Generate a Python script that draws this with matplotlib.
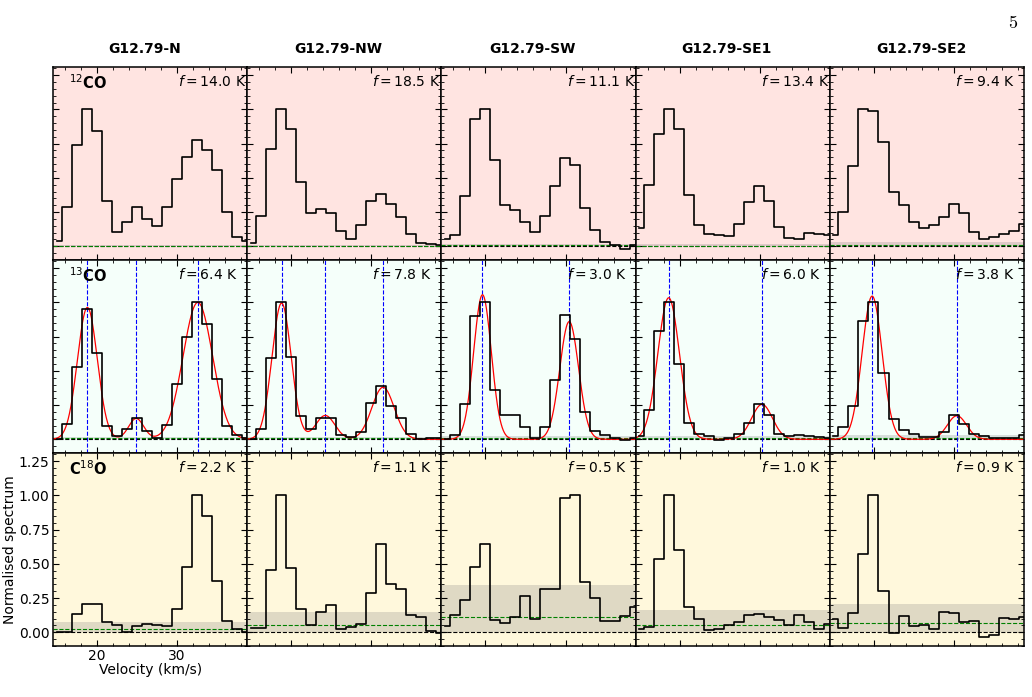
import numpy as np
import matplotlib.pyplot as plt
from matplotlib.ticker import MultipleLocator

plt.rcParams['mathtext.fontset'] = 'dejavusans'

sources = ['G12.79-N', 'G12.79-NW', 'G12.79-SW', 'G12.79-SE1', 'G12.79-SE2']

# channel centres (km/s), same grid for every spectrum
velocity = [14.96, 16.21, 17.46, 18.71, 19.96, 21.21, 22.46, 23.71, 24.96, 26.21,
            27.46, 28.71, 29.96, 31.21, 32.46, 33.71, 34.96, 36.21, 37.46, 38.71]

# 12CO normalised spectra
co12_spec = [
    [0.037, 0.287, 0.737, 1.000, 0.845, 0.330, 0.103, 0.179, 0.289, 0.196,
     0.147, 0.289, 0.490, 0.654, 0.779, 0.703, 0.559, 0.252, 0.066, 0.037],
    [0.025, 0.220, 0.710, 1.000, 0.860, 0.470, 0.240, 0.270, 0.245, 0.110,
     0.054, 0.154, 0.333, 0.380, 0.310, 0.216, 0.090, 0.027, 0.017, 0.012],
    [0.051, 0.086, 0.365, 0.930, 1.000, 0.630, 0.304, 0.262, 0.180, 0.105,
     0.218, 0.439, 0.645, 0.596, 0.282, 0.118, 0.032, 0.007, -0.022, 0.007],
    [0.135, 0.449, 0.820, 1.000, 0.860, 0.373, 0.152, 0.093, 0.083, 0.076,
     0.164, 0.320, 0.440, 0.330, 0.142, 0.064, 0.051, 0.096, 0.091, 0.081],
    [0.086, 0.250, 0.583, 1.000, 0.985, 0.760, 0.397, 0.300, 0.174, 0.130,
     0.154, 0.213, 0.309, 0.240, 0.105, 0.054, 0.071, 0.088, 0.113, 0.160],
]
co12_peak = [14.0, 18.5, 11.1, 13.4, 9.4]
co12_rms = [0.004, 0.004, 0.006, 0.005, 0.010]

# 13CO normalised spectra
co13_spec = [
    [0.005, 0.115, 0.527, 0.949, 0.630, 0.098, 0.022, 0.074, 0.152, 0.061,
     0.012, 0.108, 0.404, 0.748, 1.000, 0.840, 0.440, 0.098, 0.032, 0.012],
    [0.005, 0.078, 0.593, 1.000, 0.600, 0.167, 0.078, 0.157, 0.157, 0.032,
     0.017, 0.054, 0.267, 0.387, 0.245, 0.152, 0.037, 0.005, 0.012, 0.007],
    [0.000, 0.032, 0.255, 0.904, 1.000, 0.360, 0.174, 0.174, 0.090, 0.012,
     0.090, 0.436, 0.910, 0.733, 0.196, 0.061, 0.029, 0.007, -0.007, 0.007],
    [0.025, 0.216, 0.789, 1.000, 0.549, 0.118, 0.042, 0.022, -0.002, 0.007,
     0.042, 0.120, 0.257, 0.174, 0.042, 0.022, 0.032, 0.022, 0.017, 0.007],
    [0.022, 0.090, 0.245, 0.865, 1.000, 0.485, 0.147, 0.069, 0.042, 0.020,
     0.020, 0.054, 0.174, 0.110, 0.039, 0.022, 0.007, 0.012, 0.012, 0.029],
]
co13_peak = [6.4, 7.8, 3.0, 6.0, 3.8]
co13_rms = [0.006, 0.006, 0.008, 0.007, 0.010]

# gaussian fit components to 13CO
fit_centre = [[18.79, 24.88, 32.58], [18.79, 24.25, 31.46], [19.63, 30.46],
              [18.63, 30.29], [19.79, 30.38]]
fit_amp = [[0.963, 0.152, 1.000], [0.995, 0.174, 0.380], [1.056, 0.860],
           [1.034, 0.255], [1.046, 0.172]]
fit_sigma = [[1.24, 0.95, 1.85], [1.20, 1.20, 1.40], [1.10, 1.17],
             [1.35, 1.30], [1.25, 1.20]]

# C18O normalised spectra
c18o_spec = [
    [0.005, 0.005, 0.134, 0.207, 0.207, 0.076, 0.051, 0.005, 0.046, 0.061,
     0.056, 0.046, 0.171, 0.478, 1.000, 0.849, 0.378, 0.080, 0.024, 0.005],
    [0.032, 0.032, 0.454, 1.000, 0.468, 0.168, 0.054, 0.146, 0.202, 0.024,
     0.041, 0.061, 0.285, 0.644, 0.351, 0.315, 0.127, 0.110, 0.012, -0.005],
    [0.046, 0.127, 0.239, 0.478, 0.646, 0.090, 0.066, 0.115, 0.266, 0.095,
     0.315, 0.315, 0.983, 1.000, 0.368, 0.254, 0.085, 0.080, 0.117, 0.183],
    [0.024, 0.039, 0.539, 1.000, 0.600, 0.183, 0.095, 0.015, 0.027, 0.056,
     0.073, 0.127, 0.134, 0.115, 0.088, 0.056, 0.124, 0.076, 0.024, 0.061],
    [0.098, 0.029, 0.139, 0.571, 1.000, 0.300, -0.005, 0.117, 0.049, 0.054,
     0.022, 0.146, 0.141, 0.073, 0.085, -0.034, -0.022, 0.105, 0.095, 0.112],
]
c18o_peak = [2.2, 1.1, 0.5, 1.0, 0.9]
c18o_rms = [0.025, 0.050, 0.114, 0.054, 0.068]

rows = [
    (r'$^{12}\mathbf{CO}$', co12_spec, co12_peak, co12_rms, 'mistyrose'),
    (r'$^{13}\mathbf{CO}$', co13_spec, co13_peak, co13_rms, 'mintcream'),
    (r'$\mathbf{C}^{18}\mathbf{O}$', c18o_spec, c18o_peak, c18o_rms, 'cornsilk'),
]

fig, axes = plt.subplots(3, 5, figsize=(10.32, 6.97), sharex=True, sharey=True)
fig.subplots_adjust(left=0.0514, right=0.9922, top=0.9039, bottom=0.0732,
                    wspace=0, hspace=0)

vfine = np.linspace(14.0, 39.5, 600)

for rr, (label, spec, peak, rms, bg) in enumerate(rows):
    for cc in range(5):
        ax = axes[rr, cc]
        ax.set_facecolor(bg)
        ax.axhspan(0, 3 * rms[cc], color='grey', alpha=0.25, lw=0)
        ax.axhline(0, color='k', ls='--', lw=0.8)
        ax.axhline(rms[cc], color='green', ls='--', lw=0.8)
        if rr == 1:
            model = np.zeros_like(vfine)
            for c0, a0, s0 in zip(fit_centre[cc], fit_amp[cc], fit_sigma[cc]):
                model += a0 * np.exp(-(vfine - c0)**2 / (2 * s0**2))
                ax.axvline(c0, color='blue', ls='--', lw=0.8)
            ax.plot(vfine, model, color='red', lw=0.9)
        ax.step(velocity, spec[cc], where='mid', color='k', lw=1.2)

        ax.text(0.645, 0.965, r'$f = %.1f$ K' % peak[cc], transform=ax.transAxes,
                ha='left', va='top', fontsize=10)
        if cc == 0:
            ax.text(0.08, 0.965, label, transform=ax.transAxes,
                    ha='left', va='top', fontsize=10.5)
        if rr == 0:
            ax.set_title(sources[cc], fontsize=10, fontweight='bold', pad=10, x=0.47)

        for sp in ax.spines.values():
            sp.set_linewidth(1.1)
        ax.tick_params(which='both', direction='in', top=True, right=True,
                       labelsize=10, pad=2.5)
        ax.tick_params(which='major', length=4.5)
        ax.tick_params(which='minor', length=2.2)
        if not (rr == 2 and cc == 0):
            ax.tick_params(labelbottom=False, labelleft=False)

ax0 = axes[2, 0]
ax0.set_xlim(14.5, 38.75)
ax0.set_ylim(-0.1, 1.31)
ax0.xaxis.set_major_locator(MultipleLocator(10))
ax0.xaxis.set_minor_locator(MultipleLocator(2))
ax0.yaxis.set_major_locator(MultipleLocator(0.25))
ax0.yaxis.set_minor_locator(MultipleLocator(0.05))
ax0.yaxis.set_major_formatter(plt.FormatStrFormatter('%.2f'))
ax0.set_xlabel('Velocity (km/s)', fontsize=10, labelpad=0)
ax0.set_ylabel('Normalised spectrum', fontsize=10, labelpad=1)

fig.text(0.981, 0.967, '5', family='cmr10', fontsize=13, ha='center', va='center')

fig.savefig('out.png', dpi=100)
